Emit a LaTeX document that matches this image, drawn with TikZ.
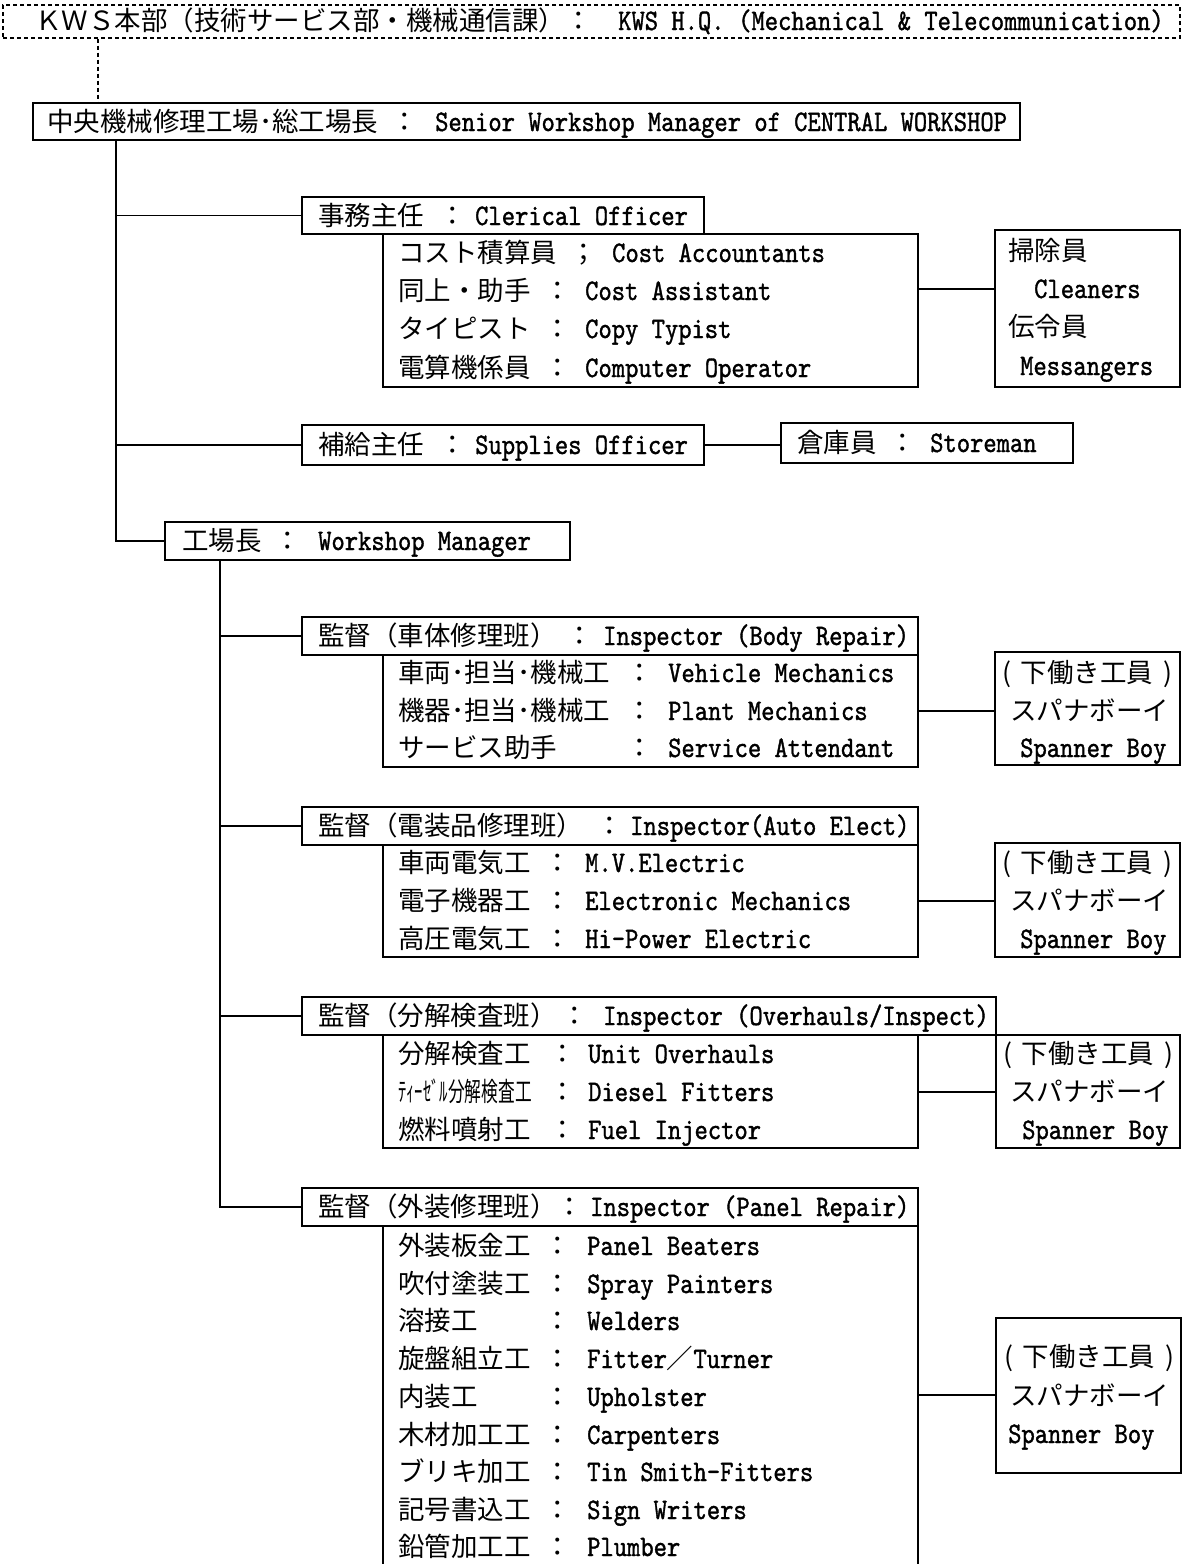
\documentclass[tikz,border=0pt]{standalone}
\usepackage{graphicx}
\usepackage{fontspec}
\newfontfamily\jpf{Noto Sans CJK JP}
\newfontfamily\enf{lmmono10-regular.otf}[FakeStretch=0.85,FakeBold=1.2]
\newcommand\jp{\jpf\fontsize{26.5pt}{30pt}\selectfont}
\newcommand\en{\enf\fontsize{29.8pt}{32pt}\selectfont}
\newcommand\shita{\makebox[170pt]{(\hfill 下働き工員\hfill)}}
\tikzset{
  box/.style={draw, line width=1.8pt, inner sep=0pt, anchor=center},
  t/.style={anchor=base west, inner sep=0pt},
  ln/.style={line width=1.8pt},
  dln/.style={line width=1.4pt, dash pattern=on 4pt off 3pt},
}
\newcommand\bx[6][]{\node[box,#1,minimum width={#5-#3},minimum height={#6-#4}] (#2) at ({(#3+#5)/2},{(#4+#6)/2}) {};}
\newcommand\R[8]{\node[t] (#1) at ({#2},{#3+9}) {\makebox[\dimexpr#4pt-#2pt-14pt\relax][l]{\jp #6}\makebox[28pt]{\jp #7}\hspace{\dimexpr#5pt-14pt\relax}\en #8};}
\newcommand\J[4]{\node[t] (#1) at ({#2},{#3+9}) {\jp #4};}
\newcommand\E[4]{\node[t] (#1) at ({#2},{#3+9}) {\en #4};}
\begin{document}
\begin{tikzpicture}[x=1pt,y=-1pt]
\fill[white] (0,0) rectangle (1184,1564);
\useasboundingbox (0,0) rectangle (1184,1564);

% top
\bx[dln]{top}{3}{5}{1180}{38}
\J{topjp}{35}{21}{ＫＷＳ本部（技術サービス部・機械通信課）：}
\E{topen1}{618}{21}{KWS H.Q.}
\E{topen2}{738}{21}{(Mechanical \& Telecommunication)}

% senior
\bx{senior}{33}{103}{1020}{140}
\R{seniort}{47}{122}{405}{30}{中央機械修理工場･総工場長}{：}{Senior Workshop Manager of CENTRAL WORKSHOP}
\coordinate (dk) at (98,0);
\draw[dln] (top.south -| dk) -- (senior.north -| dk);

% clerical
\bx{clh}{302}{197}{704}{234}
\R{clht}{318}{216}{453}{22}{事務主任}{：}{Clerical Officer}
\bx{cll}{383}{234}{918}{387}
\R{cl1}{398}{253}{584}{28}{コスト積算員}{；}{Cost Accountants}
\R{cl2}{398}{291}{558}{27}{同上・助手}{：}{Cost Assistant}
\R{cl3}{398}{329}{558}{27}{タイピスト}{：}{Copy Typist}
\R{cl4}{398}{368}{558}{27}{電算機係員}{：}{Computer Operator}
\bx{cln}{995}{230}{1180}{387}
\J{cln1}{1008}{251}{掃除員}
\E{cln2}{1034}{289}{Cleaners}
\J{cln3}{1008}{327}{伝令員}
\E{cln4}{1020}{366}{Messangers}
\coordinate (hc) at (950,289);
\draw[ln] (cll.east |- hc) -- (cln.west |- hc);

% supplies
\bx{sup}{302}{425}{704}{465}
\R{supt}{318}{445}{453}{22}{補給主任}{：}{Supplies Officer}
\bx{sto}{781}{423}{1073}{463}
\R{stot}{797}{443}{903}{27}{倉庫員}{：}{Storeman}
\draw[ln] (sup.east) -- (sup.east -| sto.west);

% workshop manager
\bx{wm}{165}{522}{570}{560}
\R{wmt}{182}{541}{288}{30}{工場長}{：}{Workshop Manager}
\coordinate (j1) at (116,541);
\draw[ln] (senior.south -| j1) -- (j1) -- (wm.west);
\draw[ln] (clh.west -| j1) -- (clh.west);
\draw[ln] (sup.west -| j1) -- (sup.west);

% body repair
\bx{bh}{302}{617}{918}{655}
\R{bht}{318}{636}{580}{23}{監督（車体修理班）}{：}{Inspector (Body Repair)}
\bx{bl}{383}{655}{918}{767}
\R{bl1}{398}{673}{640}{28}{車両･担当･機械工}{：}{Vehicle Mechanics}
\R{bl2}{398}{711}{640}{28}{機器･担当･機械工}{：}{Plant Mechanics}
\R{bl3}{398}{748}{640}{28}{サービス助手}{：}{Service Attendant}
\bx{bs}{995}{652}{1180}{765}
\J{bs1}{1002}{673}{\shita}
\J{bs2}{1010}{711}{スパナボーイ}
\E{bs3}{1020}{748}{Spanner Boy}
\coordinate (hb) at (950,711);
\draw[ln] (bl.east |- hb) -- (bs.west |- hb);

% auto elect
\bx{ah}{302}{807}{918}{845}
\R{aht}{318}{826}{610}{20}{監督（電装品修理班）}{：}{Inspector(Auto Elect)}
\bx{al}{383}{845}{918}{957}
\R{al1}{398}{863}{558}{27}{車両電気工}{：}{M.V.Electric}
\R{al2}{398}{901}{558}{27}{電子機器工}{：}{Electronic Mechanics}
\R{al3}{398}{939}{558}{27}{高圧電気工}{：}{Hi-Power Electric}
\bx{as}{995}{843}{1180}{957}
\J{as1}{1002}{863}{\shita}
\J{as2}{1010}{901}{スパナボーイ}
\E{as3}{1020}{939}{Spanner Boy}
\coordinate (ha) at (950,901);
\draw[ln] (al.east |- ha) -- (as.west |- ha);

% overhauls
\bx{oh}{302}{997}{996}{1035}
\R{oht}{318}{1016}{575}{28}{監督（分解検査班）}{：}{Inspector (Overhauls/Inspect)}
\bx{ol}{383}{1035}{918}{1148}
\R{ol1}{398}{1054}{563}{25}{分解検査工}{：}{Unit Overhauls}
\R{ol2}{398}{1092}{563}{25}{\scalebox{0.63}[1]{ﾃｨｰｾﾞﾙ分解検査工}}{：}{Diesel Fitters}
\R{ol3}{398}{1130}{563}{25}{燃料噴射工}{：}{Fuel Injector}
\bx{os}{996}{1035}{1180}{1148}
\J{os1}{1003}{1054}{\shita}
\J{os2}{1010}{1092}{スパナボーイ}
\E{os3}{1022}{1130}{Spanner Boy}
\coordinate (ho) at (950,1092);
\draw[ln] (ol.east |- ho) -- (os.west |- ho);

% panel repair
\bx{ph}{302}{1188}{918}{1226}
\R{pht}{318}{1207}{570}{20}{監督（外装修理班）}{：}{Inspector (Panel Repair)}
\bx{pl}{383}{1226}{918}{1620}
\R{pl1}{398}{1246}{558}{29}{外装板金工}{：}{Panel Beaters}
\R{pl2}{398}{1284}{558}{29}{吹付塗装工}{：}{Spray Painters}
\R{pl3}{398}{1321}{558}{29}{溶接工}{：}{Welders}
\R{pl4}{398}{1359}{558}{29}{旋盤組立工}{：}{Fitter{\jp ／}Turner}
\R{pl5}{398}{1397}{558}{29}{内装工}{：}{Upholster}
\R{pl6}{398}{1435}{558}{29}{木材加工工}{：}{Carpenters}
\R{pl7}{398}{1472}{558}{29}{ブリキ加工}{：}{Tin Smith-Fitters}
\R{pl8}{398}{1510}{558}{29}{記号書込工}{：}{Sign Writers}
\R{pl9}{398}{1547}{558}{29}{鉛管加工工}{：}{Plumber}
\bx{ps}{996}{1318}{1181}{1473}
\J{ps1}{1004}{1357}{\shita}
\J{ps2}{1010}{1396}{スパナボーイ}
\E{ps3}{1008}{1434}{Spanner Boy}
\coordinate (hp) at (950,1395);
\draw[ln] (pl.east |- hp) -- (ps.west |- hp);

% trunk 2
\coordinate (j2) at (220,1207);
\draw[ln] (wm.south -| j2) -- (j2) -- (ph.west);
\draw[ln] (bh.west -| j2) -- (bh.west);
\draw[ln] (ah.west -| j2) -- (ah.west);
\draw[ln] (oh.west -| j2) -- (oh.west);
\end{tikzpicture}
\end{document}
